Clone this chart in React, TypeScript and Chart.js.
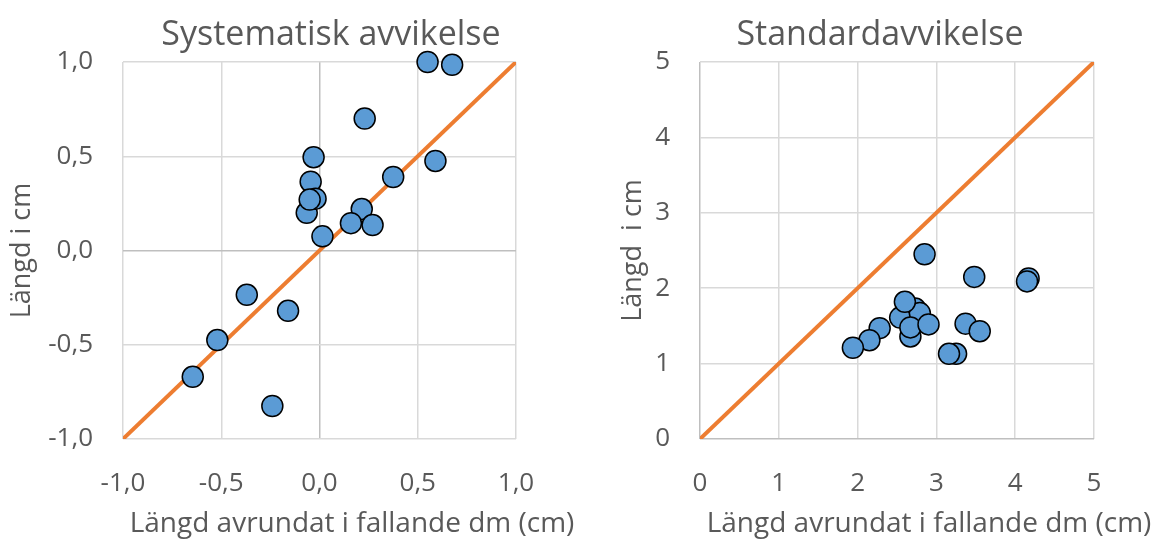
import React, { useEffect, useRef } from "react";
import { Chart, registerables } from "chart.js";

Chart.register(...registerables);

// Systematisk avvikelse: x = avrundat i fallande dm, y = längd
const sysX = [0.55, 0.675, 0.23, -0.065, -0.03, 0.59, 0.375, -0.045, -0.02, -0.05, 0.215, 0.16, 0.27, 0.015, -0.37, -0.16, -0.52, -0.645, -0.24];
const sysY = [1.0, 0.985, 0.7, 0.2, 0.495, 0.475, 0.39, 0.365, 0.275, 0.27, 0.22, 0.145, 0.135, 0.075, -0.235, -0.32, -0.475, -0.67, -0.825];

// Standardavvikelse
const stdX = [2.85, 3.48, 4.17, 4.15, 2.73, 2.54, 2.79, 2.6, 2.67, 2.67, 2.9, 2.28, 2.15, 1.94, 3.37, 3.55, 3.25, 3.16];
const stdY = [2.45, 2.15, 2.13, 2.09, 1.73, 1.61, 1.67, 1.82, 1.36, 1.48, 1.52, 1.47, 1.31, 1.21, 1.53, 1.43, 1.13, 1.13];

// 1:1 reference lines
const sysLine = [-1, 1];
const stdLine = [0, 5];

const sysTitle = "Systematisk avvikelse";
const stdTitle = "Standardavvikelse";
const xAxisTitle = "Längd avrundat i fallande dm (cm)";
const sysYTitle = "Längd i cm";
const stdYTitle = "Längd  i cm";

const FONT = "'Open Sans', sans-serif";
const TEXT = "#595959";
const GRID = "#D9D9D9";
const AXIS = "#BFBFBF";
const BLUE = "#5B9BD5";
const ORANGE = "#ED7D31";

type Cfg = {
  xs: number[];
  ys: number[];
  line: number[];
  min: number;
  max: number;
  step: number;
  decimals: number;
  yTitle: string;
  yTitlePad: number;
  plotLeft: number;
  padRight: number;
};

function makeChart(canvas: HTMLCanvasElement, c: Cfg) {
  const fmt = (v: number | string) =>
    Number(v).toFixed(c.decimals).replace(".", ",");
  const gridColor = (ctx: any) =>
    Math.abs(ctx.tick?.value ?? 1) < 1e-9 ? AXIS : GRID;
  return new Chart(canvas, {
    type: "scatter",
    data: {
      datasets: [
        {
          data: c.xs.map((x, i) => ({ x, y: c.ys[i] })),
          backgroundColor: BLUE,
          borderColor: "#000000",
          borderWidth: 1.5,
          pointRadius: 10.5,
          pointHoverRadius: 10.5,
          clip: false,
        },
        {
          data: c.line.map((v) => ({ x: v, y: v })),
          showLine: true,
          borderColor: ORANGE,
          borderWidth: 4,
          pointRadius: 0,
          pointHoverRadius: 0,
        },
      ],
    },
    options: {
      responsive: false,
      animation: false,
      devicePixelRatio: 1,
      layout: { padding: { top: 62, right: c.padRight, bottom: 0, left: 0 } },
      plugins: { legend: { display: false }, tooltip: { enabled: false } },
      scales: {
        x: {
          type: "linear",
          min: c.min,
          max: c.max,
          afterFit: (s: any) => {
            s.height = 104;
          },
          border: { display: false },
          grid: { color: gridColor, lineWidth: 1.5, drawTicks: false },
          ticks: {
            stepSize: c.step,
            callback: fmt,
            color: TEXT,
            font: { family: FONT, size: 26 },
            padding: 29,
            maxRotation: 0,
          },
        },
        y: {
          type: "linear",
          min: c.min,
          max: c.max,
          afterFit: (s: any) => {
            s.width = c.plotLeft;
          },
          border: { display: false },
          grid: { color: gridColor, lineWidth: 1.5, drawTicks: false },
          ticks: {
            stepSize: c.step,
            callback: fmt,
            color: TEXT,
            font: { family: FONT, size: 26 },
            padding: 30,
          },
          title: {
            display: true,
            text: c.yTitle,
            color: TEXT,
            font: { family: FONT, size: 27 },
            padding: { top: c.yTitlePad, bottom: 0 },
          },
        },
      },
    },
  } as any);
}

const labelStyle = (center: number, top: number, size: number, lh: number) => ({
  position: "absolute" as const,
  left: center,
  top,
  transform: "translateX(-50%)",
  whiteSpace: "pre" as const,
  fontFamily: FONT,
  fontSize: size,
  lineHeight: `${lh}px`,
  color: TEXT,
});

function ScatterPanel(props: {
  cfg: Cfg;
  title: string;
  left: number;
  titleCenter: number;
  xTitleCenter: number;
}) {
  const ref = useRef<HTMLCanvasElement>(null);
  useEffect(() => {
    if (!ref.current) return;
    const chart = makeChart(ref.current, props.cfg);
    return () => chart.destroy();
  }, []);
  return (
    <>
      <canvas
        ref={ref}
        width={575}
        height={543}
        style={{ position: "absolute", left: props.left, top: 0, width: 575, height: 543 }}
      />
      <div style={labelStyle(props.titleCenter, 12, 34, 40)}>{props.title}</div>
      <div style={labelStyle(props.xTitleCenter, 504, 28, 34)}>{xAxisTitle}</div>
    </>
  );
}

export default function App() {
  return (
    <div
      style={{
        position: "absolute",
        left: 0,
        top: 0,
        width: 1151,
        height: 543,
        background: "#ffffff",
        overflow: "hidden",
      }}
    >
      <ScatterPanel
        title={sysTitle}
        left={0}
        titleCenter={331}
        xTitleCenter={352}
        cfg={{
          xs: sysX,
          ys: sysY,
          line: sysLine,
          min: -1,
          max: 1,
          step: 0.5,
          decimals: 1,
          yTitle: sysYTitle,
          yTitlePad: 6,
          plotLeft: 123,
          padRight: 59,
        }}
      />
      <ScatterPanel
        title={stdTitle}
        left={576}
        titleCenter={880}
        xTitleCenter={929}
        cfg={{
          xs: stdX,
          ys: stdY,
          line: stdLine,
          min: 0,
          max: 5,
          step: 1,
          decimals: 0,
          yTitle: stdYTitle,
          yTitlePad: 41,
          plotLeft: 124,
          padRight: 57,
        }}
      />
    </div>
  );
}
